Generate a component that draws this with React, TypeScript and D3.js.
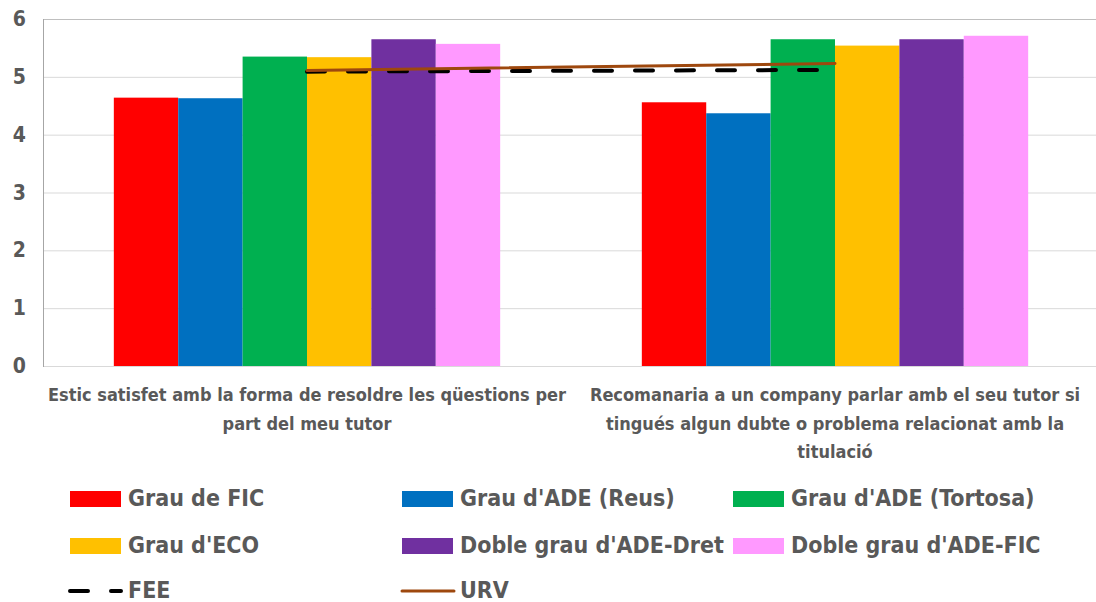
import React, { useEffect, useRef } from 'react';
import * as d3 from 'd3';

const categoryLines: string[][] = [
  ['Estic satisfet amb la forma de resoldre les qüestions per', 'part del meu tutor'],
  ['Recomanaria a un company parlar amb el seu tutor si', 'tingués algun dubte o problema relacionat amb la', 'titulació'],
];
const categories = ['q1', 'q2'];

const barSeries = [
  "Grau de FIC",
  "Grau d'ADE (Reus)",
  "Grau d'ADE (Tortosa)",
  "Grau d'ECO",
  "Doble grau d'ADE-Dret",
  "Doble grau d'ADE-FIC",
];
const barColors = ['#FF0000', '#0070C0', '#00B050', '#FFC000', '#7030A0', '#FF99FF'];
const barValues: number[][] = [
  [4.64, 4.56],
  [4.63, 4.37],
  [5.35, 5.65],
  [5.34, 5.54],
  [5.65, 5.65],
  [5.57, 5.71],
];

const feeValues = [5.09, 5.12];
const urvValues = [5.11, 5.23];
const yTicks = [0, 1, 2, 3, 4, 5, 6];

const FONT = "'Liberation Sans Narrow', 'DejaVu Sans Condensed', 'Open Sans', sans-serif";
const GREY = '#595959';

const App: React.FC = () => {
  const svgRef = useRef<SVGSVGElement>(null);

  useEffect(() => {
    if (!svgRef.current) return;
    const svg = d3.select(svgRef.current);
    svg.selectAll('*').remove();

    const left = 43, right = 1099, top = 19, bottom = 366;

    const x0 = d3.scaleBand<string>().domain(categories).range([left, right]).padding(0);
    const x1 = d3.scaleBand<string>()
      .domain(barSeries)
      .range([0, x0.bandwidth()])
      .paddingInner(0)
      .paddingOuter(1.1);
    const y = d3.scaleLinear().domain([0, 6]).range([bottom, top]);

    // gridlines
    svg.append('g')
      .selectAll('line')
      .data(yTicks)
      .enter()
      .append('line')
      .attr('x1', left)
      .attr('x2', 1096)
      .attr('y1', d => y(d) + 0.5)
      .attr('y2', d => y(d) + 0.5)
      .attr('stroke', d => (d === 6 ? '#bfbfbf' : '#d9d9d9'))
      .attr('stroke-width', 1);

    // left axis line
    svg.append('line')
      .attr('x1', left + 0.5)
      .attr('x2', left + 0.5)
      .attr('y1', top)
      .attr('y2', bottom + 1)
      .attr('stroke', '#a6a6a6');

    // y tick labels
    svg.append('g')
      .selectAll('text')
      .data(yTicks)
      .enter()
      .append('text')
      .attr('x', 26)
      .attr('y', d => y(d) + 7)
      .attr('text-anchor', 'end')
      .attr('font-family', FONT)
      .attr('font-size', 21)
      .attr('font-weight', 'bold')
      .attr('fill', GREY)
      .text(d => d);

    // bars
    barSeries.forEach((s, si) => {
      svg.append('g')
        .selectAll('rect')
        .data(barValues[si])
        .enter()
        .append('rect')
        .attr('x', (_, i) => (x0(categories[i]) ?? 0) + (x1(s) ?? 0))
        .attr('y', d => y(d))
        .attr('width', x1.bandwidth())
        .attr('height', d => y(0) - y(d))
        .attr('fill', barColors[si]);
    });

    // lines
    const cx = (i: number) => (x0(categories[i]) ?? 0) + x0.bandwidth() / 2;
    const lineGen = d3.line<number>().x((_, i) => cx(i)).y(d => y(d));

    svg.append('path')
      .attr('d', lineGen(feeValues))
      .attr('fill', 'none')
      .attr('stroke', '#000000')
      .attr('stroke-width', 4)
      .attr('stroke-linecap', 'round')
      .attr('stroke-dasharray', '18,23');

    svg.append('path')
      .attr('d', lineGen(urvValues))
      .attr('fill', 'none')
      .attr('stroke', '#9E480E')
      .attr('stroke-width', 3)
      .attr('stroke-linecap', 'round');

    // category labels
    categoryLines.forEach((lines, i) => {
      const t = svg.append('text')
        .attr('text-anchor', 'middle')
        .attr('font-family', FONT)
        .attr('font-size', 18)
        .attr('font-weight', 'bold')
        .attr('fill', GREY);
      lines.forEach((ln, li) => {
        t.append('tspan')
          .attr('x', cx(i))
          .attr('y', 401 + li * 28.5)
          .text(ln);
      });
    });

    // legend
    const colX = [70, 402, 733];
    const rowY = [499, 546, 591];
    const legendItems = [
      ...barSeries.map((s, i) => ({ name: s, kind: 'bar', color: barColors[i] })),
      { name: 'FEE', kind: 'fee', color: '#000000' },
      { name: 'URV', kind: 'urv', color: '#9E480E' },
    ];
    legendItems.forEach((item, i) => {
      const gx = colX[i % 3];
      const gy = rowY[Math.floor(i / 3)];
      if (item.kind === 'bar') {
        svg.append('rect')
          .attr('x', gx)
          .attr('y', gy - 8)
          .attr('width', 51)
          .attr('height', 16)
          .attr('fill', item.color);
      } else if (item.kind === 'fee') {
        svg.append('line')
          .attr('x1', gx)
          .attr('x2', gx + 51)
          .attr('y1', gy)
          .attr('y2', gy)
          .attr('stroke', item.color)
          .attr('stroke-width', 4)
          .attr('stroke-linecap', 'round')
          .attr('stroke-dasharray', '18,23');
      } else {
        svg.append('line')
          .attr('x1', gx)
          .attr('x2', gx + 52)
          .attr('y1', gy)
          .attr('y2', gy)
          .attr('stroke', item.color)
          .attr('stroke-width', 3)
          .attr('stroke-linecap', 'round');
      }
      svg.append('text')
        .attr('x', gx + 58)
        .attr('y', gy + 7)
        .attr('font-family', FONT)
        .attr('font-size', 23)
        .attr('font-weight', 'bold')
        .attr('fill', GREY)
        .text(item.name);
    });
  }, []);

  return (
    <div style={{ position: 'fixed', left: 0, top: 0, width: 1096, height: 602, background: '#fff' }}>
      <svg ref={svgRef} width={1096} height={602} style={{ display: 'block' }} />
    </div>
  );
};

export default App;
